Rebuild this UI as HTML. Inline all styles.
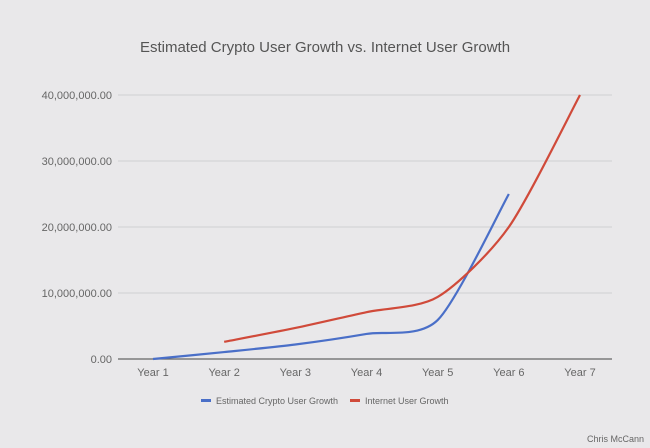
<!DOCTYPE html>
<html><head><meta charset="utf-8"><style>
html,body{margin:0;padding:0;background:#e9e8ea;}
svg{display:block;font-family:"Liberation Sans",sans-serif;}
</style></head><body>
<svg id="chart" width="650" height="448" viewBox="0 0 650 448">
<rect width="650" height="448" fill="#e9e8ea"/>
<text x="325" y="52" text-anchor="middle" font-size="15" fill="#555">Estimated Crypto User Growth vs. Internet User Growth</text>
<g id="grid"></g><g id="yticks"></g><g id="xticks"></g><g id="lines"></g>
<g>
<g>
<rect x="201" y="399" width="10" height="3" fill="#4a6fc8"/>
<text x="216" y="404" font-size="9" fill="#666">Estimated Crypto User Growth</text></g>
<g>
<rect x="350" y="399" width="10" height="3" fill="#d04a3a"/>
<text x="365" y="404" font-size="9" fill="#666">Internet User Growth</text></g>
</g>
<text x="644" y="442" text-anchor="end" font-size="9" fill="#666">Chris McCann</text>
</svg>
<script>
const categories=["Year 1","Year 2","Year 3","Year 4","Year 5","Year 6","Year 7"];
const cryptoValues=[0,1.05e6,2.2e6,3.8e6,5.9e6,25e6,null];
const internetValues=[null,2.6e6,4.7e6,7.1e6,9.4e6,20e6,40e6];
const yTicks=[0,10e6,20e6,30e6,40e6];
const yTickLabels=["0.00","10,000,000.00","20,000,000.00","30,000,000.00","40,000,000.00"];
const NS="http://www.w3.org/2000/svg";
const x0=153,x1=580,yBase=359,yTop=95,yMax=40e6;
function xPos(i){return x0+(x1-x0)*i/(categories.length-1);}
function yPos(v){return yBase-(yBase-yTop)*v/yMax;}
function mk(tag,attrs,parent){const e=document.createElementNS(NS,tag);for(const k in attrs)e.setAttribute(k,attrs[k]);parent.appendChild(e);return e;}
const grid=document.getElementById('grid'),yt=document.getElementById('yticks'),xt=document.getElementById('xticks'),lines=document.getElementById('lines');
yTicks.forEach((v,i)=>{
 const l=mk('line',{x1:118,x2:612,y1:yPos(v),y2:yPos(v),stroke:i===0?'#666':'#cfcfd1','stroke-width':i===0?1.2:1},grid);
 
 
 const t=mk('text',{x:112,y:yPos(v)+4,'text-anchor':'end','font-size':11,fill:'#666'},yt);
 t.textContent=yTickLabels[i];
 
 
});
categories.forEach((c,i)=>{
 const t=mk('text',{x:xPos(i),y:376,'text-anchor':'middle','font-size':11,fill:'#666'},xt);
 t.textContent=c;
 
 
});
function pathFor(vals){
 const pts=[];vals.forEach((v,i)=>{if(v!==null)pts.push([xPos(i),yPos(v)]);});
 let d='M'+pts[0][0]+','+pts[0][1];
 for(let i=0;i<pts.length-1;i++){
  const p0=pts[Math.max(0,i-1)],p1=pts[i],p2=pts[i+1],p3=pts[Math.min(pts.length-1,i+2)];
  const t=0.13;
  const c1=[p1[0]+(p2[0]-p0[0])*t,p1[1]+(p2[1]-p0[1])*t];
  const c2=[p2[0]-(p3[0]-p1[0])*t,p2[1]-(p3[1]-p1[1])*t];
  d+=' C'+c1+' '+c2+' '+p2;
 }
 return d;
}
const pc=mk('path',{d:pathFor(cryptoValues),fill:'none',stroke:'#4a6fc8','stroke-width':2.2},lines);


const pi=mk('path',{d:pathFor(internetValues),fill:'none',stroke:'#d04a3a','stroke-width':2.2},lines);


</script>
</body></html>
